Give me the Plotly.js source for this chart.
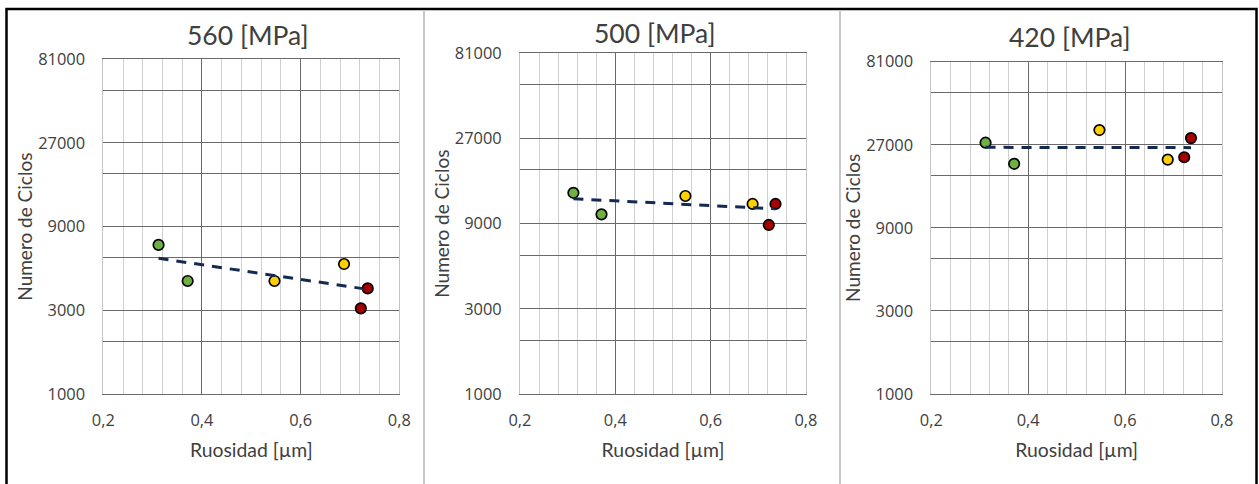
<!DOCTYPE html>
<html>
<head>
<meta charset="utf-8">
<script src="https://cdn.plot.ly/plotly-3.0.1.min.js"></script>
<style>html,body{margin:0;padding:0;background:#fff;}#chart{width:1259px;height:484px;}</style>
</head>
<body>
<div id="chart"></div>
<script>
// ---- data ----
const roughness = [0.312, 0.371, 0.547, 0.688, 0.722, 0.736];
const pointColors = ['#6fb043', '#6fb043', '#ffd000', '#ffd000', '#a80000', '#a80000'];
const cycles560 = [7080, 4410, 4410, 5510, 3080, 4000];
const cycles500 = [13400, 10150, 12860, 11600, 8850, 11600];
const cycles420 = [27750, 21000, 32800, 22200, 22900, 29500];
const trendX = [0.312, 0.736];
const trend560 = [5940, 3950];
const trend500 = [12400, 10900];
const trend420 = [26100, 26000];
const panelTitles = ['560 [MPa]', '500 [MPa]', '420 [MPa]'];
const xTickVals = [0.2, 0.4, 0.6, 0.8];
const xTickText = ['0,2', '0,4', '0,6', '0,8'];
const yTickVals = [1000, 2000, 3000, 6000, 9000, 18000, 27000, 54000, 81000];
const yTickText = ['1000', '', '3000', '', '9000', '', '27000', '', '81000'];
const xTitle = 'Ruosidad [µm]';
const yTitle = 'Numero de Ciclos';

// ---- styles / layout ----
const W = 1259, H = 484;
const FONT = 'Lato, "Open Sans", sans-serif';
const TICKFONT = '"Open Sans", Lato, sans-serif';
const TXT = '#404040';
const series = [cycles560, cycles500, cycles420];
const trends = [trend560, trend500, trend420];
// plot-area pixel boxes [left, right, top, bottom]
const boxes = [[103.3, 399.3, 59.3, 394], [520, 806, 53.3, 394], [931.3, 1222, 61.7, 394]];
const titlePos = [[248, 35], [655, 33], [1070, 37]];

const traces = [];
const layout = {
  width: W, height: H,
  margin: {l: 0, r: 0, t: 0, b: 0},
  paper_bgcolor: '#ffffff', plot_bgcolor: '#ffffff',
  showlegend: false,
  font: {family: FONT, color: TXT},
  annotations: [],
  shapes: []
};

for (let i = 0; i < 3; i++) {
  const sfx = i === 0 ? '' : String(i + 1);
  const xa = 'x' + sfx, ya = 'y' + sfx;
  traces.push({
    type: 'scatter', mode: 'markers', x: roughness, y: series[i],
    xaxis: xa, yaxis: ya, hoverinfo: 'x+y',
    marker: {size: 10.5, color: pointColors, line: {color: '#000000', width: 1.7}}
  });
  traces.push({
    type: 'scatter', mode: 'lines', x: trendX, y: trends[i],
    xaxis: xa, yaxis: ya, hoverinfo: 'skip',
    line: {color: '#142a50', width: 3, dash: '10px,8px'}
  });
  const b = boxes[i];
  layout['xaxis' + sfx] = {
    domain: [b[0] / W, b[1] / W], anchor: ya,
    range: [0.2, 0.8], tickmode: 'array', tickvals: xTickVals, ticktext: xTickText,
    showgrid: true, gridcolor: '#6a6a6a', gridwidth: 1,
    minor: {tick0: 0.2, dtick: 0.04, showgrid: true, gridcolor: '#d0d0d0', gridwidth: 1, ticks: ''},
    showline: true, linecolor: '#6a6a6a', linewidth: 1, mirror: true,
    zeroline: false, ticks: '', ticklabelstandoff: 11,
    tickfont: {family: TICKFONT, size: 16.4, color: TXT},
    title: {text: xTitle, font: {family: FONT, size: 19.4, color: TXT}, standoff: 13},
    fixedrange: true
  };
  layout['yaxis' + sfx] = {
    domain: [1 - b[3] / H, 1 - b[2] / H], anchor: xa,
    type: 'log', range: [Math.log10(1000), Math.log10(81000)],
    tickmode: 'array', tickvals: yTickVals, ticktext: yTickText,
    showgrid: true, gridcolor: '#6a6a6a', gridwidth: 1,
    showline: true, linecolor: '#c4c4c4', linewidth: 1, mirror: true,
    zeroline: false, ticks: '', ticklabelstandoff: 14,
    tickfont: {family: TICKFONT, size: 16.4, color: TXT},
    title: {text: yTitle, font: {family: FONT, size: 19, color: TXT}, standoff: 0},
    fixedrange: true
  };
  layout.annotations.push({
    xref: 'paper', yref: 'paper', x: titlePos[i][0] / W, y: 1 - titlePos[i][1] / H,
    xanchor: 'center', yanchor: 'middle', showarrow: false,
    text: panelTitles[i], font: {family: FONT, size: 26.5, color: TXT}
  });
}

// outer frame and panel dividers
layout.shapes.push({type: 'rect', xref: 'paper', yref: 'paper', x0: 6.5 / W, x1: 1256.5 / W, y0: -0.05, y1: 1 - 9 / H,
  line: {color: '#000000', width: 2.5}, fillcolor: 'rgba(0,0,0,0)', layer: 'above'});
[424, 840].forEach(px => layout.shapes.push({type: 'line', xref: 'paper', yref: 'paper', x0: px / W, x1: px / W,
  y0: -0.05, y1: 1 - 10 / H, line: {color: '#c8c8c8', width: 2}, layer: 'above'}));

Plotly.newPlot('chart', traces, layout, {staticPlot: true, displayModeBar: false});
</script>
</body>
</html>
